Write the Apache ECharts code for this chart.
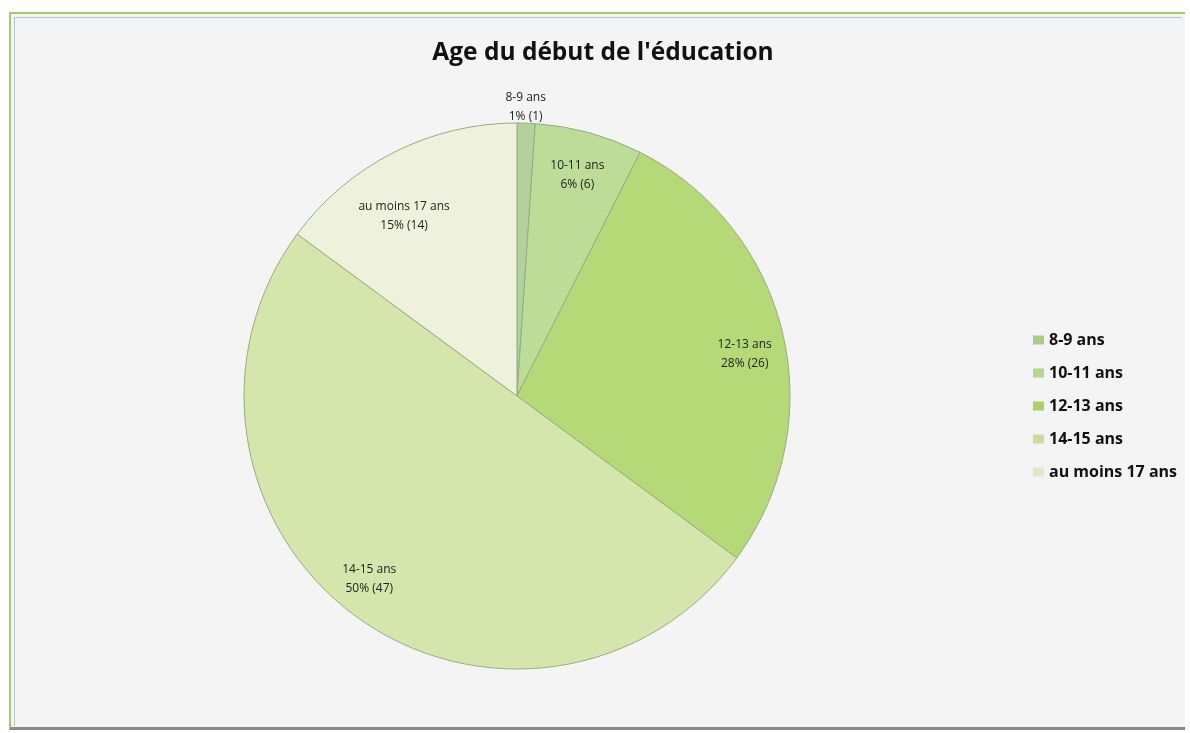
<!DOCTYPE html>
<html>
<head>
<meta charset="utf-8">
<script src="https://cdn.jsdelivr.net/npm/echarts@6/dist/echarts.min.js"></script>
<style>
html,body{margin:0;padding:0;background:#fff;width:1190px;height:733px;overflow:hidden;}
#frame{position:absolute;left:9px;top:12px;width:1176px;height:718px;border-left:2px solid #a6c96a;border-top:2px solid #a6c96a;border-bottom:3px solid #8a8a8a;box-sizing:border-box;background:#f4f4f4;}
#inner{position:absolute;left:3px;top:3px;right:3px;bottom:1px;border-left:1px solid #b9c3cc;border-top:1px solid #b9c3cc;}
#chart{position:absolute;left:0;top:0;width:1190px;height:733px;}
</style>
</head>
<body>
<div id="frame"><div id="inner"></div></div>
<div id="chart"></div>
<script>
const categories = ["8-9 ans", "10-11 ans", "12-13 ans", "14-15 ans", "au moins 17 ans"];
const counts = [1, 6, 26, 47, 14];
const titleText = "Age du début de l'éducation";

const colors = ["#b3d29b", "#bddc98", "#b6d978", "#d4e6ac", "#eef2dc"];
const legendColors = ["#a9cc8a", "#b3d88a", "#a9d16a", "#c6df9a", "#dfe8c8"];
const labelOffsets = [[4, -149.5], [23.5, -86], [92, -10], [-65, 70.5], [-50, -55.5]];

const chart = echarts.init(document.getElementById('chart'), null, {renderer: 'canvas'});
const data = categories.map((c, i) => ({
  name: c,
  value: counts[i],
  itemStyle: {color: colors[i]},
  label: {offset: labelOffsets[i]}
}));
chart.setOption({
  backgroundColor: 'transparent',
  animation: false,
  title: {
    text: titleText,
    left: 598, top: 36, textAlign: 'center',
    textStyle: {fontFamily: 'Open Sans', fontWeight: 'bold', fontSize: 24.5, color: '#111'}
  },
  legend: {
    orient: 'vertical',
    left: 1028, top: 325,
    itemWidth: 11, itemHeight: 9, itemGap: 13,
    icon: 'rect',
    itemStyle: {borderWidth: 0},
    textStyle: {fontFamily: 'Open Sans', fontWeight: 'bold', fontSize: 16, lineHeight: 20, color: '#111'},
    data: categories.map((c, i) => ({name: c, itemStyle: {color: legendColors[i], borderWidth: 0}}))
  },
  series: [{
    type: 'pie',
    center: [517, 396],
    radius: [0, 273],
    startAngle: 90,
    clockwise: true,
    percentPrecision: 0,
    avoidLabelOverlap: false,
    itemStyle: {borderColor: '#94ad7e', borderWidth: 1},
    label: {
      position: 'inside',
      formatter: '{b}\n{d}% ({c})',
      fontFamily: 'Open Sans', fontSize: 12, color: '#222', lineHeight: 19
    },
    labelLine: {show: false},
    emphasis: {disabled: true},
    data: data
  }]
});
</script>
</body>
</html>
